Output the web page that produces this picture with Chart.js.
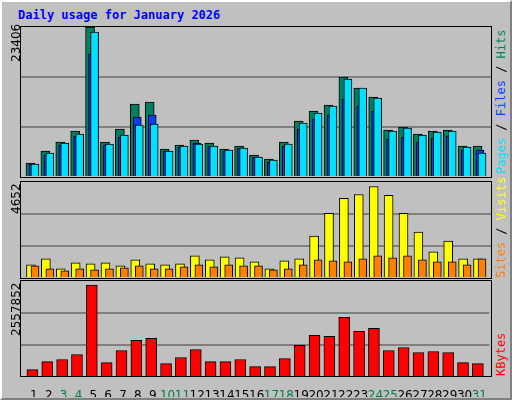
<!DOCTYPE html>
<html lang="en">
<head>
<meta charset="UTF-8">
<title>Daily usage</title>
<script src="https://cdn.jsdelivr.net/npm/chart.js"></script>
<style>
body { margin: 0; }
#frame { position: relative; width: 508px; height: 396px; background: #c0c0c0;
  border-top: 2px solid #fff; border-left: 2px solid #fff; border-right: 2px solid #808080; border-bottom: 2px solid #808080; font-family: "DejaVu Sans Mono", monospace; }
.title { position: absolute; left: 16px; top: 6px; color: #0000ff; font-weight: bold; font-size: 12px; }
.panel { position: absolute; border: 1px solid #000; }
canvas { display: block; }
.rot { position: absolute; transform: rotate(-90deg); transform-origin: left top; white-space: nowrap; font-size: 12px; }
</style>
</head>
<body>
<div id="frame">
  <div class="title">Daily usage for January 2026</div>
  <div class="panel" style="left:18px;top:24px;width:470px;height:150px"><canvas id="c1" width="470" height="150"></canvas></div>
  <div class="panel" style="left:18px;top:179px;width:470px;height:96px"><canvas id="c2" width="470" height="96"></canvas></div>
  <div class="panel" style="left:18px;top:278px;width:470px;height:96px;border-bottom:none"></div>
  <div style="position:absolute;left:19px;top:279px"><canvas id="c3" width="470" height="116"></canvas></div>
  <div style="position:absolute;left:18px;top:374px;width:472px;height:1px;background:#000"></div>

  <div class="rot" style="left:7px;top:60px;font-family:'DejaVu Sans';">23406</div>
  <div class="rot" style="left:7px;top:212px;font-family:'DejaVu Sans';">4652</div>
  <div class="rot" style="left:7px;top:334px;font-family:'DejaVu Sans';">2557852</div>
  <div class="rot" style="left:492px;top:172px;"><span style="color:#00e0ff">Pages</span> / <span style="color:#0040ff">Files</span> / <span style="color:#008060">Hits</span></div>
  <div class="rot" style="left:492px;top:276px;"><span style="color:#ff8000">Sites</span> / <span style="color:#ffff00">Visits</span></div>
  <div class="rot" style="left:492px;top:374px;"><span style="color:#ff0000">KBytes</span></div>
</div>
<script>
const days = [1,2,3,4,5,6,7,8,9,10,11,12,13,14,15,16,17,18,19,20,21,22,23,24,25,26,27,28,29,30,31];
const weekend = [3,4,10,11,17,18,24,25,31];

const hits = [2184,4056,5460,7176,23406,5460,7488,11388,11700,4368,4992,5772,5304,4368,4836,3432,2808,5460,8736,10296,11232,15600,13884,12480,7332,7800,6708,7176,7332,4836,4836];
const files = [2028,3432,4992,6396,19188,4992,6240,9360,9672,4056,4680,5304,4836,4056,4524,3120,2340,4836,7488,9048,9672,12168,11076,10296,5928,6240,5460,6084,6396,4212,4212];
const pages = [2028,3744,5304,6708,22620,5148,6552,8112,8268,4056,4836,5148,4836,4212,4524,3120,2652,5148,8424,9984,11076,15288,13884,12324,7176,7644,6552,7020,7176,4680,3744];
const visits = [640,928,448,736,688,736,592,880,688,640,688,1072,880,1024,976,784,448,832,928,2032,3136,3856,4048,4432,4000,3136,2224,1264,1792,928,928];
const sites = [592,448,352,448,400,448,496,592,448,448,544,640,544,640,592,592,400,448,640,880,832,784,928,1072,976,1072,880,784,784,640,928];
const kbytes = [196768,411424,465088,599248,2450656,384592,706576,974896,1028560,357760,518752,733408,411424,411424,465088,277264,277264,491920,840736,1109056,1082224,1592032,1216384,1296880,706576,787072,652912,679744,652912,384592,357760];

const maxHits = 23406, maxVisits = 4652, maxKB = 2557852;
const PX = 14.9; // pixels per day

function series(values, offPx) {
  return values.map((v, i) => ({ x: days[i] + offPx / PX, y: v }));
}

function bar(label, values, color, offPx, width, order) {
  return { label, data: series(values, offPx), backgroundColor: color, borderColor: '#000',
    borderWidth: 1, barThickness: width, grouped: false, order };
}

function opts(max, showX) {
  return {
    responsive: false, animation: false,
    layout: { padding: 0 },
    plugins: { legend: { display: false }, tooltip: { enabled: false } },
    scales: {
      x: { type: 'linear', min: 0.13, max: 31.67, display: showX, offset: false,
        afterBuildTicks: s => { s.ticks = days.map(d => ({ value: d })); },
        afterFit: s => { if (showX) s.height = 20; },
        grid: { display: false }, border: { display: false },
        ticks: { padding: 4, maxRotation: 0, minRotation: 0, autoSkip: false,
          font: { family: 'DejaVu Sans', size: 12 },
          color: c => weekend.includes(c.tick.value) ? '#008040' : '#000' } },
      y: { min: 0, max: max, display: true,
        afterBuildTicks: s => { s.ticks = [0, max / 3, max * 2 / 3, max].map(v => ({ value: v })); },
        afterFit: s => { s.width = 0; },
        grid: { color: c => (c.index === 1 || c.index === 2) ? '#808080' : 'rgba(0,0,0,0)', lineWidth: 2, drawTicks: false },
        border: { display: false }, ticks: { display: false } }
    }
  };
}

new Chart(document.getElementById('c1'), {
  type: 'bar',
  data: { datasets: [
    bar('Pages', pages, '#00e0ff', 1, 8, 1),
    bar('Files', files, '#0040ff', -1, 8, 2),
    bar('Hits', hits, '#008060', -3.5, 9, 3)
  ] },
  options: opts(maxHits, false)
});

new Chart(document.getElementById('c2'), {
  type: 'bar',
  data: { datasets: [
    bar('Sites', sites, '#ff8000', 1, 8, 1),
    bar('Visits', visits, '#ffff00', -3, 9, 2)
  ] },
  options: opts(maxVisits, false)
});

new Chart(document.getElementById('c3'), {
  type: 'bar',
  data: { datasets: [ bar('KBytes', kbytes, '#ff0000', -1.5, 11, 1) ] },
  options: opts(maxKB, true)
});
</script>
</body>
</html>
